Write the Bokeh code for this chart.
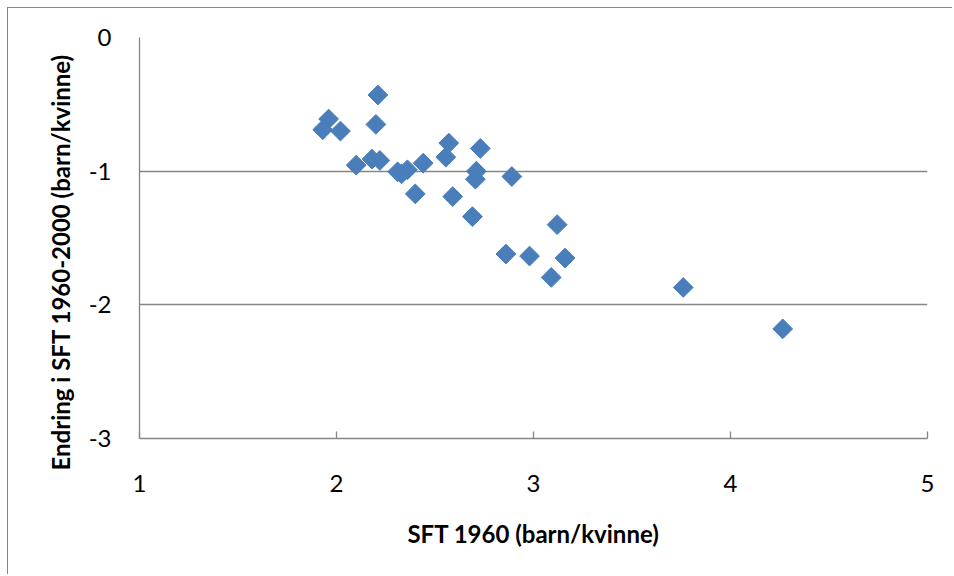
import numpy as np
from bokeh.plotting import figure
from bokeh.models import Range1d, FixedTicker, Title
from bokeh.embed import file_html
from bokeh.resources import INLINE

# Data
sft_1960 = [2.21, 1.96, 1.93, 2.02, 2.20, 2.10, 2.18, 2.22, 2.31, 2.33,
            2.36, 2.44, 2.40, 2.57, 2.555, 2.59, 2.73, 2.71, 2.705, 2.89,
            2.69, 3.12, 2.86, 2.98, 3.16, 3.09, 3.76, 4.265]
endring = [-0.43, -0.61, -0.69, -0.70, -0.65, -0.955, -0.91, -0.92, -1.005, -1.02,
           -0.99, -0.94, -1.17, -0.79, -0.895, -1.19, -0.83, -1.00, -1.06, -1.04,
           -1.34, -1.40, -1.62, -1.635, -1.65, -1.795, -1.87, -2.18]

x_ticks = [1, 2, 3, 4, 5]
y_ticks = [-3, -2, -1, 0]
y_tick_labels = ["-3", "-2", "-1", "0"]
x_title = "SFT 1960 (barn/kvinne)"
y_title = "Endring i SFT 1960-2000 (barn/kvinne)"

FONT = "Lato"
GRAY = "#868686"

p = figure(width=945, height=567, output_backend="svg", toolbar_location=None,
           x_range=Range1d(1, 5), y_range=Range1d(-3, 0),
           min_border_left=131, min_border_right=26,
           min_border_top=29, min_border_bottom=137)
p.styles = {"margin-left": "7px", "margin-top": "7px",
            "border-left": "1px solid #868686", "border-top": "1px solid #868686"}
p.outline_line_color = None
p.background_fill_color = "white"
p.border_fill_color = "white"

p.scatter(sft_1960, endring, marker="square", size=14, angle=np.pi / 4,
          fill_color="#4a7ebb", line_color="#4a7ebb")

# grids
p.xgrid.visible = False
p.ygrid.ticker = FixedTicker(ticks=y_ticks)
p.ygrid.grid_line_color = GRAY
p.ygrid.grid_line_width = 1.3

# x axis
p.xaxis.ticker = FixedTicker(ticks=x_ticks)
p.xaxis.axis_line_color = GRAY
p.xaxis.axis_line_width = 1.3
p.xaxis.major_tick_line_color = GRAY
p.xaxis.major_tick_line_width = 1.3
p.xaxis.major_tick_in = 7
p.xaxis.major_tick_out = 0
p.xaxis.minor_tick_line_color = None
p.xaxis.major_label_text_font = FONT
p.xaxis.major_label_text_font_size = "24px"
p.xaxis.major_label_text_color = "black"
p.xaxis.major_label_standoff = 36
p.xaxis.axis_label = x_title
p.xaxis.axis_label_text_font = FONT
p.xaxis.axis_label_text_font_style = "bold"
p.xaxis.axis_label_text_font_size = "24px"
p.xaxis.axis_label_text_color = "black"
p.xaxis.axis_label_standoff = 24

# y axis
p.yaxis.ticker = FixedTicker(ticks=y_ticks)
p.yaxis.major_label_overrides = dict(zip(y_ticks, y_tick_labels))
p.yaxis.axis_line_color = GRAY
p.yaxis.axis_line_width = 1.3
p.yaxis.major_tick_in = 0
p.yaxis.major_tick_out = 0
p.yaxis.minor_tick_line_color = None
p.yaxis.major_label_text_font = FONT
p.yaxis.major_label_text_font_size = "24px"
p.yaxis.major_label_text_color = "black"
p.yaxis.major_label_standoff = 28

ytitle = Title(text=y_title, align="left", offset=-32, vertical_align="middle",
               text_font=FONT, text_font_style="bold", text_font_size="24px",
               text_color="black", standoff=20)
p.add_layout(ytitle, "left")

open("out.html", "w").write(file_html(p, INLINE))
